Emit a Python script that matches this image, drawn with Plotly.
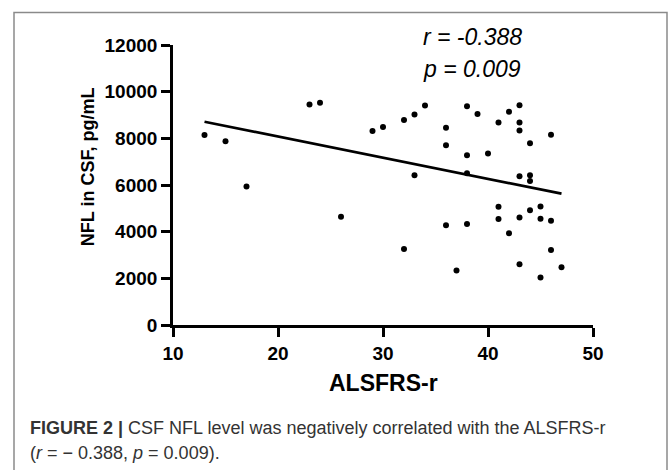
import plotly.graph_objects as go

# ---- data ----
alsfrs = [13, 15, 17, 23, 24, 26, 29, 30, 32, 33, 34, 33, 32, 36, 36, 36, 37,
          38, 38, 38, 38, 39, 40, 41, 41, 41, 42, 42, 43, 43, 43, 43, 43, 43,
          44, 44, 44, 44, 45, 45, 45, 46, 46, 46, 47]
nfl = [8140, 7870, 5940, 9450, 9520, 4640, 8310, 8490, 8790, 9020, 9410, 6420,
       3255, 8450, 7700, 4270, 2340, 9370, 7270, 6500, 4325, 9040, 7350, 8680,
       5066, 4540, 9140, 3930, 9420, 8680, 8340, 6370, 4610, 2600, 7790, 6420,
       6170, 4920, 5080, 4550, 2040, 8150, 4470, 3210, 2470]

fit_x = [13, 47]
fit_y = [8710, 5630]

x_ticks = [10, 20, 30, 40, 50]
y_ticks = [0, 2000, 4000, 6000, 8000, 10000, 12000]
y_tick_text = [str(v) for v in y_ticks]

stat_lines = ["<i>r = -0.388</i>", "<i>p = 0.009</i>"]
caption_1 = "<b>FIGURE 2 |</b> CSF NFL level was negatively correlated with the ALSFRS-r"
caption_2 = "(<i>r</i> = \u2212 0.388, <i>p</i> = 0.009)."

# ---- geometry ----
W, H = 669, 470
L, R, T, B = 173, 76, 44.5, 145
PW = W - L - R
PH = H - T - B


def px(xp):
    return (xp - L) / PW


def py(yp):
    return (H - B - yp) / PH


fig = go.Figure()
fig.add_trace(go.Scatter(x=fit_x, y=fit_y, mode="lines",
                         line=dict(color="black", width=2.7),
                         hoverinfo="skip", showlegend=False))
fig.add_trace(go.Scatter(x=alsfrs, y=nfl, mode="markers",
                         marker=dict(color="black", size=6),
                         showlegend=False, cliponaxis=False))

axis_common = dict(showline=True, linecolor="black", linewidth=2.6,
                   ticks="outside", ticklen=9, tickwidth=2.6, tickcolor="black",
                   showgrid=False, zeroline=False,
                   tickfont=dict(family="Liberation Sans, Arial", size=19,
                                 color="black", weight="bold"))

fig.update_xaxes(range=[10, 50], tickvals=x_ticks, **axis_common)
fig.update_yaxes(range=[0, 12000], tickvals=y_ticks, ticktext=y_tick_text,
                 **axis_common)

ann = []
ann.append(dict(x=0.5, y=py(383), xref="paper", yref="paper",
                text="<b>ALSFRS-r</b>", showarrow=False,
                xanchor="center", yanchor="middle",
                font=dict(family="Liberation Sans, Arial", size=23, color="black")))
ann.append(dict(x=px(88), y=py(167), xref="paper", yref="paper",
                text="<b>NFL in CSF, pg/mL</b>", showarrow=False, textangle=-90,
                xanchor="center", yanchor="middle",
                font=dict(family="Liberation Sans, Arial", size=18, color="black")))
for txt, yy in zip(stat_lines, [36, 69]):
    ann.append(dict(x=px(421), y=py(yy), xref="paper", yref="paper",
                    text=txt, showarrow=False, xanchor="left", yanchor="middle",
                    font=dict(family="Liberation Sans, Arial", size=23,
                              color="black")))
for txt, yy in zip([caption_1, caption_2], [428, 453]):
    ann.append(dict(x=px(28), y=py(yy), xref="paper", yref="paper",
                    text=txt, showarrow=False, xanchor="left", yanchor="middle",
                    font=dict(family="Liberation Sans, Arial", size=18,
                              color="#333333")))

fig.update_layout(
    width=W, height=H,
    margin=dict(l=L, r=R, t=T, b=B),
    paper_bgcolor="white", plot_bgcolor="white",
    annotations=ann,
    shapes=[dict(type="rect", xref="paper", yref="paper",
                 x0=px(14), x1=px(667), y0=py(490), y1=py(12),
                 line=dict(color="#8a8a8a", width=1.5), layer="below")],
)

fig.write_html("out.html")
